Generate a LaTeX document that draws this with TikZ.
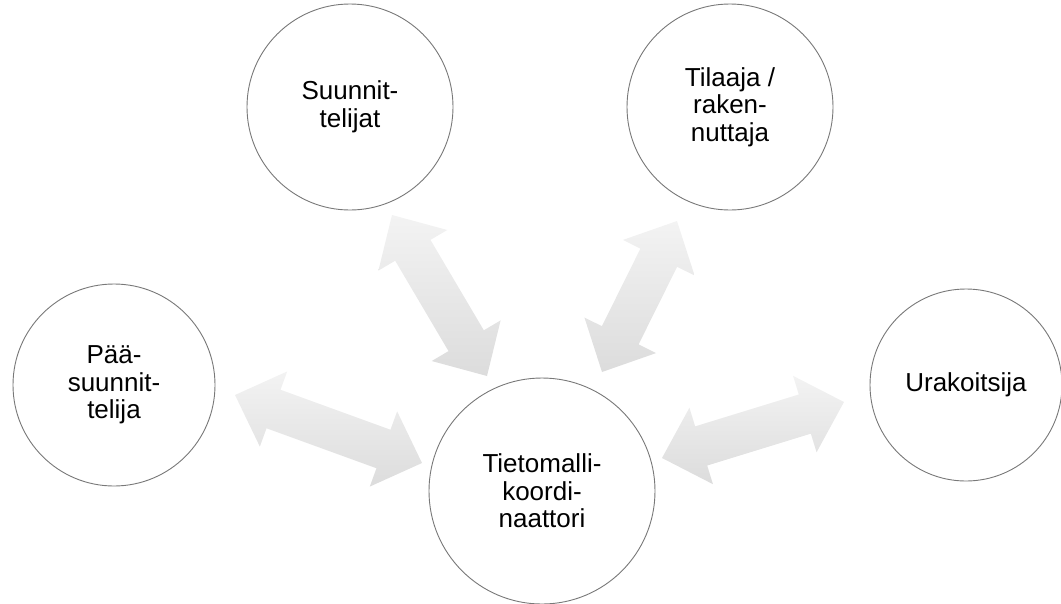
\documentclass[tikz,border=0pt]{standalone}
\usepackage{fontspec}
\setmainfont{Liberation Sans}
\usetikzlibrary{calc}
\definecolor{RingGray}{RGB}{120,120,120}
\definecolor{ArrowLight}{RGB}{243,243,243}
\definecolor{ArrowDark}{RGB}{220,220,220}
% double block arrow between two named points
\newcommand{\linkarrow}[2]{%
  \shade[top color=ArrowLight,bottom color=ArrowDark]
    (#1) -- ($(#1)!41pt!(#2)!40pt!90:(#2)$) -- ($(#1)!41pt!(#2)!20.5pt!90:(#2)$)
    -- ($(#2)!41pt!(#1)!20.5pt!-90:(#1)$) -- ($(#2)!41pt!(#1)!40pt!-90:(#1)$)
    -- (#2) -- ($(#2)!41pt!(#1)!40pt!90:(#1)$) -- ($(#2)!41pt!(#1)!20.5pt!90:(#1)$)
    -- ($(#1)!41pt!(#2)!20.5pt!-90:(#2)$) -- ($(#1)!41pt!(#2)!40pt!-90:(#2)$) -- cycle;}

\begin{document}
\begin{tikzpicture}[x=1pt,y=-1pt,
  party/.style={circle,draw=RingGray,line width=0.9pt,fill=white,inner sep=0pt,
    align=center,font=\fontsize{26}{27.5}\selectfont}]
  \useasboundingbox (0,0) rectangle (1061,603);
  \node[party,minimum size=206pt] (suun) at (350,107) {Suunnit-\\telijat};
  \node[party,minimum size=206pt] (tilaaja) at (730,107) {Tilaaja /\\raken-\\nuttaja};
  \node[party,minimum size=202pt] (paa) at (114,385) {Pää-\\suunnit-\\telija};
  \node[party,minimum size=226pt] (tieto) at (542,491) {Tietomalli-\\koordi-\\naattori};
  \node[party,minimum size=192pt] (urak) at (966,385) {Urakoitsija};
  % arrow ends
  \coordinate (s1) at (392,215); \coordinate (s2) at (487,376);
  \coordinate (t1) at (677,221); \coordinate (t2) at (602,372);
  \coordinate (p1) at (235,395); \coordinate (p2) at (422,463);
  \coordinate (u1) at (662,458); \coordinate (u2) at (844,402);
  \linkarrow{s1}{s2}
  \linkarrow{t1}{t2}
  \linkarrow{p1}{p2}
  \linkarrow{u1}{u2}
\end{tikzpicture}
\end{document}
